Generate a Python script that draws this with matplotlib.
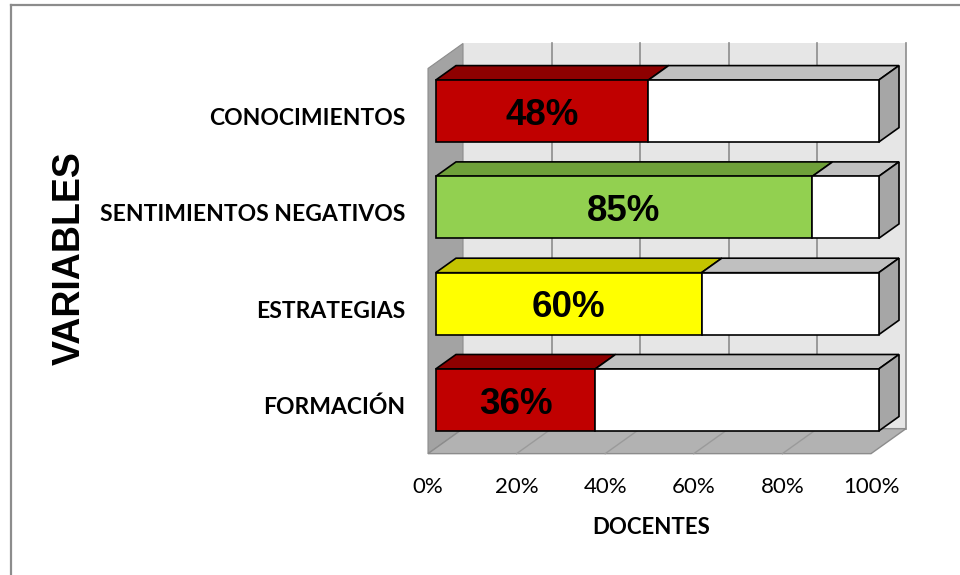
import matplotlib
matplotlib.use("Agg")
import matplotlib.pyplot as plt
from matplotlib.patches import Polygon
from matplotlib.lines import Line2D
from matplotlib.transforms import offset_copy

# ---- data ----
categories = ['FORMACIÓN', 'ESTRATEGIAS', 'SENTIMIENTOS NEGATIVOS', 'CONOCIMIENTOS']
values = [36, 60, 85, 48]
front_colors = ['#C00000', '#FFFF00', '#92D050', '#C00000']
top_colors = ['#8E0000', '#C4C400', '#6FA03A', '#8E0000']
xticks = [0, 20, 40, 60, 80, 100]
xtick_labels = ['0%', '20%', '40%', '60%', '80%', '100%']
xlabel = 'DOCENTES'
ylabel = 'VARIABLES'

# ---- style ----
W, H = 960, 575
fig = plt.figure(figsize=(W / 100, H / 100), dpi=100)
fig.patch.set_facecolor('white')

ax_left_px, ax_w_px = 428, 443
ax_bottom_px, ax_top_px = 453.65, 68.45
ax = fig.add_axes([ax_left_px / W, (H - ax_bottom_px) / H,
                   ax_w_px / W, (ax_bottom_px - ax_top_px) / H])
ax.set_xlim(0, 100)
ax.set_ylim(-0.5, 3.5)
ax.patch.set_visible(False)
for s in ax.spines.values():
    s.set_visible(False)

DX = 35 / 443 * 100      # depth offset in x data units
DY = 25 / 96.3           # depth offset in y data units
z0, z1 = 0.22, 0.80      # bar depth range
half_h = 0.322
edge = '#000000'
lw_bar = 1.2


def P(x, y, z):
    return (x + DX * z, y + DY * z)


def poly(pts, fc, ec='none', lw=0.0, zorder=1):
    ax.add_patch(Polygon(pts, closed=True, facecolor=fc, edgecolor=ec,
                         linewidth=lw, zorder=zorder, clip_on=False,
                         joinstyle='miter'))


ylo, yhi = -0.5, 3.5
# back wall
poly([P(0, ylo, 1), P(100, ylo, 1), P(100, yhi, 1), P(0, yhi, 1)], '#E6E6E6', zorder=1)
for t in xticks[1:]:
    a, b = P(t, ylo, 1), P(t, yhi, 1)
    ax.add_line(Line2D([a[0], b[0]], [a[1], b[1]], color='#8C8C8C', lw=1.2,
                       zorder=1.5, clip_on=False))
# left wall
poly([P(0, ylo, 0), P(0, ylo, 1), P(0, yhi, 1), P(0, yhi, 0)], '#A3A3A3',
     ec='#8C8C8C', lw=0.8, zorder=2)
# floor
poly([P(0, ylo, 0), P(100, ylo, 0), P(100, ylo, 1), P(0, ylo, 1)], '#B2B2B2',
     ec='#8C8C8C', lw=1.0, zorder=2)
for t in xticks[1:-1]:
    a, b = P(t, ylo, 0), P(t, ylo, 1)
    ax.add_line(Line2D([a[0], b[0]], [a[1], b[1]], color='#9A9A9A', lw=1.0,
                       zorder=2.5, clip_on=False))

# bars
label_tr = offset_copy(ax.transData, fig=fig, x=0, y=-13.5, units='dots')
for i, (cat, v, fc, tc) in enumerate(zip(categories, values, front_colors, top_colors)):
    yb, yt = i - half_h, i + half_h
    segs = [(0, v, fc, tc), (v, 100, '#FFFFFF', '#C0C0C0')]
    for x0, x1, f, t in segs:
        poly([P(x0, yt, z0), P(x1, yt, z0), P(x1, yt, z1), P(x0, yt, z1)], t,
             ec=edge, lw=lw_bar, zorder=3)
        poly([P(x0, yb, z0), P(x1, yb, z0), P(x1, yt, z0), P(x0, yt, z0)], f,
             ec=edge, lw=lw_bar, zorder=4)
    poly([P(100, yb, z0), P(100, yb, z1), P(100, yt, z1), P(100, yt, z0)], '#A6A6A6',
         ec=edge, lw=lw_bar, zorder=3)
    cx, cy = P(v / 2, i, z0)
    ax.text(cx, cy, f'{v}%', ha='center', va='baseline', fontsize=26.5,
            fontweight='bold', family='Liberation Sans', zorder=5,
            transform=label_tr)

# axes ticks / labels
ax.set_xticks(xticks)
ax.set_xticklabels(xtick_labels, family='Lato', fontsize=16)
ax.set_yticks(range(len(categories)))
ax.set_yticklabels(categories, family='Lato', fontsize=16.5, fontweight='bold')
ax.tick_params(axis='x', length=0, pad=17)
ax.tick_params(axis='y', length=0, pad=16.5)

ax.set_xlabel(xlabel, family='Lato', fontsize=16, fontweight='bold', va='center')
ax.xaxis.set_label_coords((651 - ax_left_px) / ax_w_px,
                          (ax_bottom_px - 528) / (ax_bottom_px - ax_top_px))
ax.set_ylabel(ylabel, family='Liberation Sans', fontsize=27, fontweight='bold', va='center')
ax.yaxis.set_label_coords((70 - ax_left_px) / ax_w_px,
                          (ax_bottom_px - 258) / (ax_bottom_px - ax_top_px))

# outer frame (left and top edges visible)
fig.add_artist(Line2D([10.5 / W, 10.5 / W], [0, 1 - 4.5 / H], color='#8C8C8C', lw=1.6))
fig.add_artist(Line2D([10.5 / W, 1], [1 - 4.5 / H, 1 - 4.5 / H], color='#8C8C8C', lw=1.6))

fig.savefig('out.png', dpi=100, facecolor='white')
